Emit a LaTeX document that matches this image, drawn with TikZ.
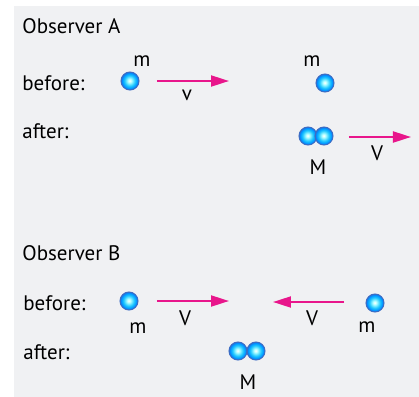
\documentclass[tikz,border=0pt]{standalone}
\usepackage{fontspec}
\setmainfont{PT Sans}
\usetikzlibrary{arrows.meta}
\definecolor{bggrey}{HTML}{F0F1F3}
\definecolor{arrowpink}{HTML}{E8168B}
\definecolor{rimblue}{HTML}{3C6DC4}
\pgfdeclareradialshading{sphere}{\pgfpoint{-1bp}{1bp}}{%
  color(0bp)=(white); color(5bp)=(white!70!cyan);
  color(15bp)=(cyan!75!blue!90!white); color(22bp)=(cyan!55!blue);
  color(25bp)=(rimblue); color(50bp)=(rimblue)}
\begin{document}
\begin{tikzpicture}[
            x=0.5pt, y=-0.5pt,
            font=\fontsize{10.5}{12}\selectfont,
            ball/.style={circle, draw=rimblue, line width=0.5pt, shading=sphere, minimum size=9pt, inner sep=0pt},
            arrow/.style={-{Triangle[length=9pt, width=5.5pt]}, line width=1pt, arrowpink},
            lbl/.style={inner sep=0pt},
            title/.style={anchor=base west, inner sep=0pt}
        ]
            \useasboundingbox (0,0) rectangle (419,397);
            \fill[bggrey] (14,6) rectangle (419,397);

            % Observer A
            \node[title] (obsA) at (22,33) {Observer A};
            \node[title] (beforeA) at (22,90) {before:};
            \node[title] (afterA) at (22,138) {after:};

            \node[ball] (ballA1) at (130,81) {};
            \node[lbl] (mA1) at (142,61) {m};
            \coordinate (vA1s) at (157,81);
            \coordinate (vA1e) at (229,81);
            \node[lbl] (vA1) at (187,95) {v};

            \node[ball] (ballA2) at (325,83) {};
            \node[lbl] (mA2) at (312,61) {m};

            \node[ball] (pairA1) at (308,136) {};
            \node[ball] (pairA2) at (324,136) {};
            \node[lbl] (MA) at (318,167) {M};
            \coordinate (VAs) at (349,137);
            \coordinate (VAe) at (411,137);
            \node[lbl] (VA) at (377,153) {V};

            % Observer B
            \node[title] (obsB) at (22,260) {Observer B};
            \node[title] (beforeB) at (23,310) {before:};
            \node[title] (afterB) at (23,359) {after:};

            \node[ball] (ballB1) at (129,301) {};
            \node[lbl] (mB1) at (138,328) {m};
            \coordinate (VB1s) at (157,301);
            \coordinate (VB1e) at (229,301);
            \node[lbl] (VB1) at (185,318) {V};

            \node[ball] (ballB2) at (375,303) {};
            \node[lbl] (mB2) at (367,327) {m};
            \coordinate (VB2s) at (344,302);
            \coordinate (VB2e) at (273,302);
            \node[lbl] (VB2) at (312,318) {V};

            \node[ball] (pairB1) at (238,351) {};
            \node[ball] (pairB2) at (256,351) {};
            \node[lbl] (MB) at (248,382) {M};

            % Arrows
            \draw[arrow] (vA1s) -- (vA1e);
            \draw[arrow] (VAs) -- (VAe);
            \draw[arrow] (VB1s) -- (VB1e);
            \draw[arrow] (VB2s) -- (VB2e);
        \end{tikzpicture}
\end{document}
